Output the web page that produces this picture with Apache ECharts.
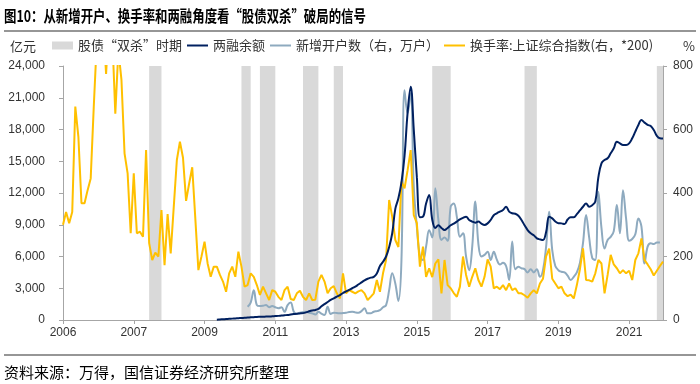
<!DOCTYPE html>
<html><head><meta charset="utf-8">
<script src="https://cdn.jsdelivr.net/npm/echarts@6/dist/echarts.min.js"></script>
<style>html,body{margin:0;padding:0;background:#fff}#c{width:700px;height:384px}</style>
</head><body><div id="c"></div>
<script>
// months 2006-01 .. 2022-04 (category axis)
const startYear = 2006, monthCount = 196;
const months = [];
for (let k = 0; k < monthCount; k++) {
  const y = startYear + Math.floor(k / 12), m = k % 12 + 1;
  months.push(y + '-' + (m < 10 ? '0' : '') + m);
}

// 换手率:上证综合指数 (*200), right axis, from 2006-01
const turnover200 = [
  300,340,305,340,672,577,368,368,409,446,672,880,
  1000,950,775,950,900,650,850,756,525,462,273,462,
  273,278,262,535,242,189,212,200,346,173,334,210,
  357,504,562,511,375,430,481,320,157,200,247,178,
  136,168,168,142,121,89,147,168,136,215,168,105,
  110,147,136,110,79,105,84,63,94,89,73,63,
  94,105,66,63,84,92,73,63,84,63,64,121,
  142,121,84,100,107,84,68,147,84,94,89,84,
  90,94,84,63,73,84,126,89,147,189,378,325,
  252,230,436,415,472,535,330,305,168,231,136,163,
  135,178,191,84,189,110,100,85,73,105,200,142,
  105,136,163,126,105,136,191,168,100,105,97,110,
  94,115,94,100,84,84,78,70,84,94,84,115,
  130,200,225,130,115,100,105,84,75,80,68,110,
  160,226,126,125,121,147,189,178,84,142,205,175,
  163,147,157,147,155,126,189,210,257,189,175,160,
  140,155,170,184
];

// 两融余额 (亿元), left axis, from 2010-03
const marginStart = '2010-03';
const marginBalance = [
  30,50,70,90,110,130,150,170,190,210,
  230,250,270,290,300,310,320,330,350,370,390,420,
  450,480,520,560,600,620,650,720,820,900,950,1050,
  1300,1500,1700,1900,2050,2200,2350,2550,2700,2850,3000,3150,
  3350,3550,3750,3900,4000,4080,4400,5100,5500,6000,6900,8200,
  10500,11500,13000,15500,19600,22050,18000,13500,9700,9760,11000,11800,
  9500,8700,8950,8700,8500,8700,8950,9100,9300,9500,9650,9760,
  9450,9300,9200,9300,9100,8980,9130,9450,9900,10080,10240,10400,
  10700,10240,10080,10040,9850,9450,8950,8500,8200,8000,7720,7620,
  7550,8300,9760,9600,9300,9150,9130,9070,9500,9700,9700,10000,
  10350,10700,11000,10700,10850,11200,13500,14800,15120,15280,15750,16220,
  16850,16690,16540,16540,16690,17170,17800,18430,18900,18650,18430,18330,
  17950,17400,17170,17150
];

// 新增开户数 (万户), right axis, from 2011-01
const accountsStart = '2011-01';
const newAccounts = [
  42,55,94,47,44,45,47,40,44,40,37,40,
  26,47,55,26,19,23,25,26,23,21,17,26,
  20,16,42,19,23,22,21,22,23,25,26,24,
  23,28,37,21,21,26,28,31,40,47,94,147,
  115,60,189,724,651,714,420,294,200,189,231,283,
  260,415,315,252,260,250,357,367,325,262,273,200,
  157,231,373,240,200,205,215,189,215,190,175,180,
  170,126,247,160,168,163,160,150,160,150,160,136,
  157,230,341,220,170,157,152,150,140,126,136,150,
  180,242,331,260,195,189,404,290,225,252,262,280,
  362,273,409,320,250,255,270,320,294,178,231,242,
  239,244,244
];

// 股债“双杀”时期
const bandPeriods = [
  ['2008-05','2008-09'], ['2010-11','2011-02'], ['2011-05','2011-10'],
  ['2012-07','2012-12'], ['2013-05','2013-08'], ['2016-01','2016-07'],
  ['2018-07','2018-11'], ['2022-02','2022-04']
];

const leftAxis = { min: 0, max: 24000, interval: 3000 };
const rightAxis = { min: 0, max: 800, interval: 200 };

function toPairs(start, arr) {
  const s = months.indexOf(start);
  return arr.map((v, k) => [s + k, v]);
}
function comma(v) { return String(v).replace(/\B(?=(\d{3})+(?!\d))/g, ','); }

const axisColor = '#a6a6a6';
const labelFont = { fontSize: 12, color: '#333', fontFamily: 'Liberation Sans, Arial, sans-serif' };
const cjk = '"Noto Sans CJK SC", sans-serif';
const lineIcon = 'path://M0,0L21,0L21,2L0,2Z';

const chart = echarts.init(document.getElementById('c'), null, { renderer: 'canvas' });
chart.setOption({
  animation: false,
  backgroundColor: '#fff',
  grid: { left: 63, right: 37, top: 66, bottom: 64 },
  legend: {
    top: 39, left: 52, itemGap: 5, itemWidth: 21, itemHeight: 8, padding: 0,
    symbolKeepAspect: true,
    textStyle: { fontSize: 13, color: '#333', fontFamily: cjk },
    data: [
      { name: '股债“双杀”时期', icon: 'rect' },
      { name: '两融余额', icon: lineIcon },
      { name: '新增开户数（右，万户）', icon: lineIcon },
      { name: '换手率:上证综合指数(右，*200)', icon: lineIcon }
    ]
  },
  xAxis: {
    type: 'category', data: months, boundaryGap: false,
    axisLine: { lineStyle: { color: axisColor } },
    axisTick: { show: true, interval: 22, length: 4, lineStyle: { color: axisColor } },
    axisLabel: Object.assign({ interval: 22, margin: 7, formatter: v => v.slice(0, 4) }, labelFont),
    splitLine: { show: false }
  },
  yAxis: [
    Object.assign({ type: 'value', position: 'left',
      axisLine: { show: true, lineStyle: { color: axisColor } },
      axisTick: { show: true, length: 4, lineStyle: { color: axisColor } },
      axisLabel: Object.assign({ margin: 18, formatter: comma }, labelFont),
      splitLine: { show: false } }, leftAxis),
    Object.assign({ type: 'value', position: 'right',
      axisLine: { show: true, lineStyle: { color: axisColor } },
      axisTick: { show: true, length: 4, lineStyle: { color: axisColor } },
      axisLabel: Object.assign({ margin: 10 }, labelFont),
      splitLine: { show: false } }, rightAxis)
  ],
  series: [
    {
      name: '股债“双杀”时期', type: 'line', data: [], z: 1,
      symbol: 'none', lineStyle: { width: 0 },
      itemStyle: { color: '#d9d9d9' },
      markArea: {
        silent: true,
        itemStyle: { color: '#d9d9d9', opacity: 1 },
        data: bandPeriods.map(p => [
          { xAxis: months.indexOf(p[0]), yAxis: leftAxis.min },
          { xAxis: months.indexOf(p[1]), yAxis: leftAxis.max }
        ])
      }
    },
    {
      name: '新增开户数（右，万户）', type: 'line', yAxisIndex: 1, z: 3,
      data: toPairs(accountsStart, newAccounts), symbol: 'none', smooth: 0.4,
      lineStyle: { color: '#8eaabf', width: 2 }, itemStyle: { color: '#8eaabf' }
    },
    {
      name: '换手率:上证综合指数(右，*200)', type: 'line', yAxisIndex: 1, z: 4,
      data: turnover200, symbol: 'none', smooth: false,
      lineStyle: { color: '#ffc000', width: 2 }, itemStyle: { color: '#ffc000' }
    },
    {
      name: '两融余额', type: 'line', yAxisIndex: 0, z: 5,
      data: toPairs(marginStart, marginBalance), symbol: 'none', smooth: 0.4,
      lineStyle: { color: '#002060', width: 2 }, itemStyle: { color: '#002060' }
    }
  ],
  graphic: [
    { type: 'text', x: 4, y: 16, scaleX: 0.775,
      style: { text: '图10：从新增开户、换手率和两融角度看“股债双杀”破局的信号', fontSize: 16, fontWeight: 'bold', fontFamily: cjk, fill: '#000', verticalAlign: 'middle' } },
    { type: 'line', shape: { x1: 4, y1: 31, x2: 696, y2: 31 }, style: { stroke: '#737373', lineWidth: 1.5 } },
    { type: 'text', x: 10, y: 46, style: { text: '亿元', fontSize: 13, fontFamily: cjk, fill: '#333', verticalAlign: 'middle' } },
    { type: 'text', x: 683, y: 46, style: { text: '%', fontSize: 13, fontFamily: cjk, fill: '#333', verticalAlign: 'middle' } },
    { type: 'line', shape: { x1: 4, y1: 355, x2: 696, y2: 355 }, style: { stroke: '#737373', lineWidth: 1.5 } },
    { type: 'text', x: 4, y: 372, style: { text: '资料来源：万得，国信证券经济研究所整理', fontSize: 15, fontFamily: cjk, fill: '#000', verticalAlign: 'middle' } }
  ]
});
</script></body></html>
